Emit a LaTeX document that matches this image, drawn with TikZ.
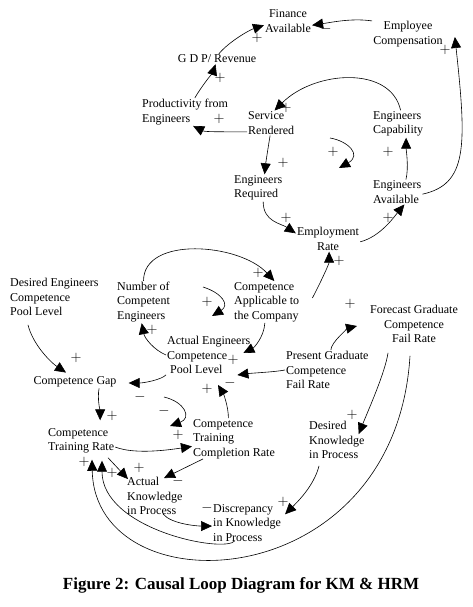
\documentclass[tikz,border=0pt]{standalone}
\usepackage{fontspec}
\setmainfont{Liberation Serif}
\usetikzlibrary{arrows.meta}

\begin{document}
\begin{tikzpicture}[x=1pt, y=-1pt, >={Triangle[length=11pt,width=10pt]},
  var/.style={inner sep=1pt, font=\fontsize{12}{14.5}\selectfont, align=center},
  lvar/.style={var, align=left, anchor=west},
  link/.style={->, line width=0.6pt},
  pol/.style={inner sep=0pt, font=\fontsize{15}{15}\selectfont}]
  \useasboundingbox (0,0) rectangle (472,607);
  % --- Variables ---
  \node[var] (finance) at (288,21) {Finance\\Available};
  \node[var] (empcomp) at (408,34) {Employee\\Compensation};
  \node[var] (gdp) at (217,59) {G D P/ Revenue};
  \node[lvar] (prod) at (141,112) {Productivity from\\Engineers};
  \node[lvar] (service) at (247,123) {Service\\Rendered};
  \node[lvar] (engcap) at (372,124) {Engineers\\Capability};
  \node[lvar] (engreq) at (233,188) {Engineers\\Required};
  \node[lvar] (engavail) at (372,192) {Engineers\\Available};
  \node[var] (emprate) at (328,239) {Employment\\Rate};
  \node[lvar] (numcomp) at (116,302) {Number of\\Competent\\Engineers};
  \node[lvar] (compapp) at (233,302) {Competence\\Applicable to\\the Company};
  \node[lvar] (despool) at (9,297) {Desired Engineers\\Competence\\Pool Level};
  \node[lvar] (actpool) at (166,355) {Actual Engineers\\Competence\\\ Pool Level};
  \node[var] (compgap) at (75,382) {Competence Gap};
  \node[lvar] (presgrad) at (285,370) {Present Graduate\\Competence\\Fail Rate};
  \node[var] (foregrad) at (414,324) {Forecast Graduate\\Competence\\Fail Rate};
  \node[lvar] (trainrate) at (47,441) {Competence\\Training Rate};
  \node[lvar] (traincomp) at (192,439) {Competence\\Training\\Completion Rate};
  \node[lvar] (desknow) at (308,440) {Desired\\Knowledge\\in Process};
  \node[lvar] (actknow) at (126,496) {Actual\\Knowledge\\in Process};
  \node[lvar] (discrep) at (212,523) {Discrepancy\\in Knowledge\\in Process};
  % --- Links ---
  \draw[link] (empcomp.160) .. controls +(-20,-3) and +(20,-3) .. (finance.-10);
  \draw[link] (gdp.70) .. controls +(10,-12) and +(-15,5) .. (finance.190);
  \draw[link] (prod.55) .. controls +(3,-6) and +(-2,6) .. (gdp.-105);
  \draw[link] (service.200) .. controls +(-25,0) and +(12,6) .. (prod.-60);
  \draw[link] (engcap.80) .. controls +(-10,-45) and +(40,-40) .. (service.75);
  \draw[link] (service.-95) .. controls +(-2,12) and +(1,-10) .. (engreq.65);
  \draw[link] (engavail.55) .. controls +(3,-12) and +(0,12) .. (engcap.-60);
  \draw[link] (engavail.-5) .. controls +(45,-10) and +(12,110) .. ([shift={(11,3)}]empcomp.east);
  \draw[link] (engreq.-70) .. controls +(0,20) and +(-15,-10) .. (emprate.170);
  \draw[link] (emprate.-5) .. controls +(20,-5) and +(-10,12) .. (engavail.-60);
  \draw[link] ([shift={(12,-4)}]compapp.east) .. controls +(8,-15) and +(0,12) .. (emprate.-85);
  \draw[link] (numcomp.north) .. controls +(0,-45) and +(-35,-38) .. (compapp.70);
  \draw[link] (actpool.west) .. controls +(-12,-5) and +(3,15) .. (numcomp.-95);
  \draw[link] (compapp.-95) .. controls +(-1,15) and +(10,-5) .. ([shift={(-8,-2)}]actpool.east);
  \draw[link] (presgrad.west) .. controls +(-10,2) and +(15,-2) .. ([shift={(-14,20)}]actpool.east);
  \draw[link] (traincomp.105) .. controls +(0,-12) and +(5,8) .. ([shift={(52,10)}]actpool.south west);
  \draw[link] (actpool.south west) .. controls +(-5,5) and +(15,0) .. ([shift={(11,1)}]compgap.east);
  \draw[link] ([shift={(19,8)}]despool.south west) .. controls +(5,20) and +(-15,-10) .. ([shift={(-9,-3)}]compgap.north);
  \draw[link] (compgap.-15) .. controls +(-2,10) and +(0,-8) .. ([shift={(19,-7)}]trainrate.north);
  \draw[link] (presgrad.80) .. controls +(0,-8) and +(-8,2) .. ([shift={(-12,2)}]foregrad.west);
  \draw[link] ([shift={(-26,9)}]foregrad.south) .. controls +(-3,20) and +(10,-25) .. ([shift={(-7,14)}]desknow.north east);
  \draw[link] ([shift={(-4,12)}]foregrad.south) .. controls +(-15,243) and +(3,150) .. ([shift={(45,5)}]trainrate.south west);
  \draw[link] ([shift={(23,-2)}]discrep.south west) .. controls +(-10,13) and +(0,69) .. ([shift={(55,6)}]trainrate.south west);
  \draw[link] ([shift={(11,-1)}]traincomp.south west) -- ([shift={(38,2)}]actknow.north west);
  \draw[link] ([shift={(37,-2)}]actknow.south west) .. controls +(8,10) and +(-15,0) .. (discrep.-175);
  \draw[link] ([shift={(11,6)}]desknow.south west) .. controls +(-5,20) and +(12,-12) .. ([shift={(3,11)}]discrep.north east);
  \draw[link] (trainrate.-10) .. controls +(20,8) and +(-20,3) .. (traincomp.-170);
  \draw[link] ([shift={(61,3)}]trainrate.south west) -- ([shift={(2,3)}]actknow.north west);
  % --- Loop markers ---
  \coordinate (loopA1) at (330,138); \coordinate (loopA2) at (339,168);
  \draw[link] (loopA1) .. controls +(18,3) and +(23,-13) .. (loopA2);
  \coordinate (loopB1) at (203,287); \coordinate (loopB2) at (212,316);
  \draw[link] (loopB1) .. controls +(19,6) and +(18,-11) .. (loopB2);
  \coordinate (loopC1) at (164,397); \coordinate (loopC2) at (170,426);
  \draw[link] (loopC1) .. controls +(21,5) and +(22,-8) .. (loopC2);
  % --- Polarities ---
  \foreach \x/\y/\s [count=\i] in {326/29/-, 257/38/+, 220/78/+, 219/119/+,
      286/108/+, 283/163/+, 333/152/+, 388/152/+, 445/50/+, 286/218/+,
      388/218/+, 339/261/+, 258/273/+, 207/302/+, 152/330/+, 233/360/+,
      230/383/-, 207/389/+, 140/397/-, 164/411/-, 76/358/+, 112/416/+,
      350/304/+, 352/415/+, 84/462/+, 178/481/-, 207/508/-, 283/502/+,
      178/435/+, 112/473/+, 139/468/+}
    \node[pol] (sign\i) at (\x,\y) {$\s$};
  % --- Caption ---
  \node[font=\fontsize{17}{17}\selectfont\bfseries] (caption) at (241,585)
    {Figure 2: Causal Loop Diagram for KM \& HRM};
\end{tikzpicture}
\end{document}
